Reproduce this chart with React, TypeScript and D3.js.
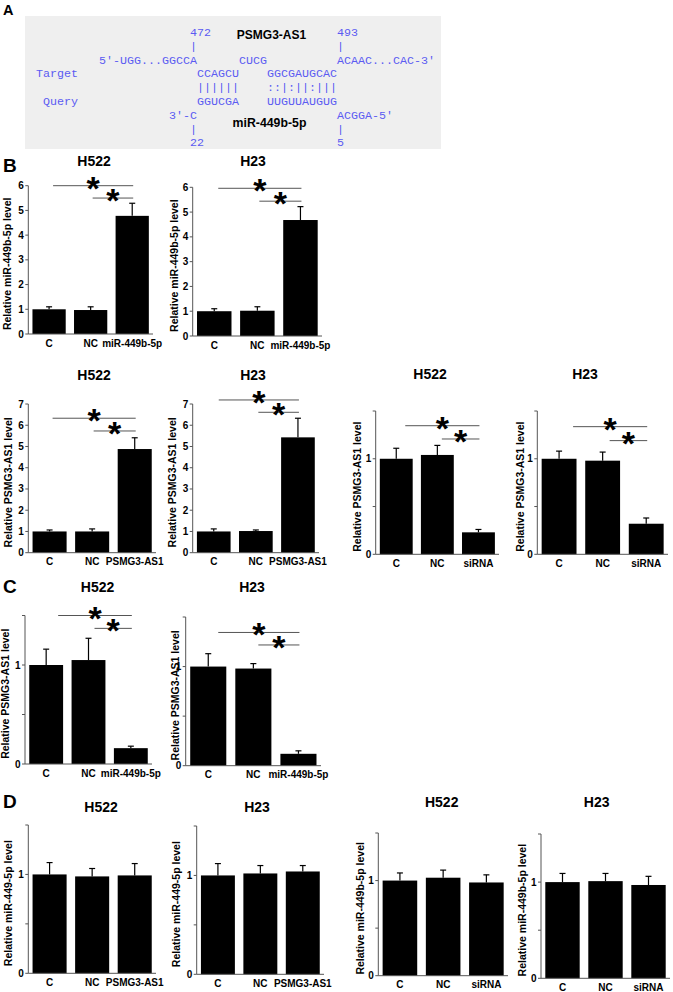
import * as d3 from 'd3'

const FONT = 'Arial, "Liberation Sans", Helvetica, sans-serif'
const MONO = '"Courier New", "Liberation Mono", monospace'
const BLUE = '#5b5bf2'

// groups on the x axis
const catsMir = ['C', 'NC', 'miR-449b-5p']
const catsOe = ['C', 'NC', 'PSMG3-AS1']
const catsSi = ['C', 'NC', 'siRNA']

// B: miR-449b-5p level after mimic
const bMirH522 = [1.0, 0.97, 4.78]
const bMirH522Sd = [0.1, 0.13, 0.51]
const bMirH23 = [1.0, 1.02, 4.68]
const bMirH23Sd = [0.1, 0.16, 0.54]
// B: PSMG3-AS1 level after overexpression
const bOeH522 = [1.0, 1.0, 4.88]
const bOeH522Sd = [0.07, 0.12, 0.53]
const bOeH23 = [1.0, 1.02, 5.43]
const bOeH23Sd = [0.12, 0.05, 0.9]
// B: PSMG3-AS1 level after siRNA
const bSiH522 = [1.0, 1.04, 0.23]
const bSiH522Sd = [0.11, 0.1, 0.03]
const bSiH23 = [1.0, 0.98, 0.32]
const bSiH23Sd = [0.08, 0.09, 0.06]
// C: PSMG3-AS1 level after miR-449b-5p mimic
const cH522 = [1.0, 1.05, 0.16]
const cH522Sd = [0.16, 0.22, 0.02]
const cH23 = [1.0, 0.98, 0.12]
const cH23Sd = [0.13, 0.05, 0.03]
// D: miR-449b-5p level
const dOeH522 = [1.0, 0.98, 0.99]
const dOeH522Sd = [0.12, 0.08, 0.12]
const dOeH23 = [1.0, 1.02, 1.04]
const dOeH23Sd = [0.12, 0.08, 0.06]
const dSiH522 = [1.0, 1.03, 0.98]
const dSiH522Sd = [0.08, 0.08, 0.08]
const dSiH23 = [1.0, 1.01, 0.97]
const dSiH23Sd = [0.09, 0.08, 0.09]

// significance brackets: [long C->3rd, short NC->3rd], in y units
const sigBMirH522 = [6.0, 5.5]
const sigBMirH23 = [5.96, 5.44]
const sigBOeH522 = [6.33, 5.73]
const sigBOeH23 = [7.19, 6.61]
const sigBSiH522 = [1.346, 1.207]
const sigBSiH23 = [1.336, 1.19]
const sigCH522 = [1.5, 1.37]
const sigCH23 = [1.344, 1.218]

// panel A: miRNA/lncRNA pairing, [column, text] per row of the monospace grid
const alignRows = [
  [[13, '472'], [34, '493']],
  [[13, '|'], [34, '|']],
  [[0, "5'-UGG...GGCCA"], [20, 'CUCG'], [34, "ACAAC...CAC-3'"]],
  [[-9, 'Target'], [14, 'CCAGCU'], [24, 'GGCGAUGCAC']],
  [[14, '||||||'], [24, '::|:||:|||']],
  [[-8, 'Query'], [14, 'GGUCGA'], [24, 'UUGUUAUGUG']],
  [[10, "3'-C"], [34, "ACGGA-5'"]],
  [[13, '|'], [34, '|']],
  [[13, '22'], [34, '5']],
]

const yLabMir = 'Relative miR-449b-5p level'
const yLabPs = 'Relative PSMG3-AS1 level'
const yLabMirD = 'Relative miR-449-5p level'

const panels = [
  { cats: catsMir, v: bMirH522, sd: bMirH522Sd, sig: sigBMirH522, max: 6, title: 'H522', ylab: yLabMir,
    ax: 28.3, right: 153, top: 185.7, zero: 334, tx: 94, ty: 165.5, lx: 7, shift: 4 },
  { cats: catsMir, v: bMirH23, sd: bMirH23Sd, sig: sigBMirH23, max: 6, title: 'H23', ylab: yLabMir,
    ax: 192.7, right: 322, top: 187.3, zero: 336, tx: 253, ty: 165.5, lx: 174.5, shift: 4 },
  { cats: catsOe, v: bOeH522, sd: bOeH522Sd, sig: sigBOeH522, max: 7, title: 'H522', ylab: yLabPs,
    ax: 28.3, right: 156, top: 404, zero: 552.7, tx: 94, ty: 380, lx: 8.2, shift: 3 },
  { cats: catsOe, v: bOeH23, sd: bOeH23Sd, sig: sigBOeH23, max: 7, title: 'H23', ylab: yLabPs,
    ax: 192.7, right: 319, top: 404, zero: 552.7, tx: 253, ty: 380, lx: 172.5, shift: 5 },
  { cats: catsSi, v: bSiH522, sd: bSiH522Sd, sig: sigBSiH522, max: 1.5, title: 'H522', ylab: yLabPs,
    ax: 375.7, right: 499, top: 411, zero: 554.3, tx: 430, ty: 379, lx: 357.5, shift: 9 },
  { cats: catsSi, v: bSiH23, sd: bSiH23Sd, sig: sigBSiH23, max: 1.5, title: 'H23', ylab: yLabPs,
    ax: 537.3, right: 668, top: 411, zero: 554.3, tx: 585, ty: 379, lx: 520.8, shift: 14 },
  { cats: catsMir, v: cH522, sd: cH522Sd, sig: sigCH522, max: 1.5, title: 'H522', ylab: yLabPs,
    ax: 25, right: 152, top: 615.5, zero: 764, tx: 97.5, ty: 592, lx: 5.5, shift: 12 },
  { cats: catsMir, v: cH23, sd: cH23Sd, sig: sigCH23, max: 1.5, title: 'H23', ylab: yLabPs,
    ax: 185.7, right: 321, top: 617, zero: 765.7, tx: 252, ty: 592, lx: 175, shift: 10 },
  { cats: catsOe, v: dOeH522, sd: dOeH522Sd, sig: null, max: 1.5, title: 'H522', ylab: yLabMirD,
    ax: 28.3, right: 156, top: 825, zero: 973.3, tx: 101, ty: 812, lx: 8, shift: 0 },
  { cats: catsOe, v: dOeH23, sd: dOeH23Sd, sig: null, max: 1.5, title: 'H23', ylab: yLabMirD,
    ax: 196.7, right: 324, top: 826, zero: 974.3, tx: 257, ty: 812, lx: 176, shift: 0 },
  { cats: catsSi, v: dSiH522, sd: dSiH522Sd, sig: null, max: 1.5, title: 'H522', ylab: yLabMir,
    ax: 378.3, right: 508, top: 833, zero: 975.7, tx: 441.7, ty: 807, lx: 360, shift: 0 },
  { cats: catsSi, v: dSiH23, sd: dSiH23Sd, sig: null, max: 1.5, title: 'H23', ylab: yLabMir,
    ax: 541, right: 670, top: 834, zero: 978.3, tx: 596.7, ty: 807, lx: 522.5, shift: 0 },
]

const AXIS = '#555'

function BarPanel({ p }: { p: any }) {
  const x = d3.scaleBand().domain(p.cats).range([p.ax, p.right]).paddingInner(0.2).paddingOuter(0.1)
  const y = d3.scaleLinear().domain([0, p.max]).range([p.zero, p.top])
  const ticks = p.max > 2 ? d3.range(0, p.max + 1) : [0, 0.5, 1, 1.5]
  const bw = x.bandwidth()
  const cx = (c: string) => (x(c) as number) + bw / 2
  const midY = (p.zero + p.top) / 2 + 4

  let sig = null
  if (p.sig) {
    const xEnd = cx(p.cats[2]) + 1
    const longStart = cx(p.cats[0]) + p.shift
    const shortStart = cx(p.cats[1]) + p.shift / 2
    const lines = [
      [longStart, y(p.sig[0])],
      [shortStart, y(p.sig[1])],
    ]
    sig = lines.map(([x1, yy], i) => (
      <g key={i}>
        <line x1={x1} x2={xEnd} y1={yy} y2={yy} stroke="#555" strokeWidth={1} />
        <text x={(x1 + xEnd) / 2} y={yy + 14} textAnchor="middle" fontSize={34}
          fontWeight="bold" fontFamily={FONT}>*</text>
      </g>
    ))
  }

  return (
    <g>
      <text x={p.tx} y={p.ty} textAnchor="middle" fontSize={14} fontWeight="bold" fontFamily={FONT}>{p.title}</text>
      {p.cats.map((c: string, i: number) => (
        <g key={c}>
          <rect x={x(c)} y={y(p.v[i])} width={bw} height={p.zero - y(p.v[i])} fill="#000" />
          <line x1={cx(c)} x2={cx(c)} y1={y(p.v[i])} y2={y(p.v[i] + p.sd[i])} stroke="#000" strokeWidth={1.2} />
          <line x1={cx(c) - 3} x2={cx(c) + 3} y1={y(p.v[i] + p.sd[i])} y2={y(p.v[i] + p.sd[i])} stroke="#000" strokeWidth={1.2} />
          <text x={cx(c)} y={p.zero + 12.5} textAnchor="middle" fontSize={10} fontWeight="bold" fontFamily={FONT}>{c}</text>
        </g>
      ))}
      <line x1={p.ax} x2={p.ax} y1={p.zero} y2={p.top} stroke={AXIS} strokeWidth={1} />
      <line x1={p.ax} x2={p.right} y1={p.zero} y2={p.zero} stroke={AXIS} strokeWidth={1} />
      {ticks.map(t => (
        <g key={t}>
          <line x1={p.ax - 3} x2={p.ax} y1={y(t)} y2={y(t)} stroke={AXIS} strokeWidth={1} />
          {Number.isInteger(t) && (
            <text x={p.ax - 4.5} y={y(t)} dy="0.35em" textAnchor="end" fontSize={10} fontWeight="bold" fontFamily={FONT}>{t}</text>
          )}
        </g>
      ))}
      <text transform={`translate(${p.lx},${midY}) rotate(-90)`} dy="0.35em" textAnchor="middle"
        fontSize={10.5} fontWeight="bold" fontFamily={FONT}>{p.ylab}</text>
      {sig}
    </g>
  )
}

function AlignPanel() {
  const colX = d3.scaleLinear().domain([0, 1]).range([99, 106])
  const rowY = d3.scaleLinear().domain([0, 1]).range([36, 49.8])
  return (
    <g>
      <rect x={25} y={16} width={416} height={133} fill="#efefef" />
      {alignRows.map((row, r) => row.map(([c, t]) => (
        <text key={`${r}-${c}`} x={colX(c as number)} y={rowY(r)} fontSize={11.67} fontFamily={MONO}
          fill={BLUE} style={{ whiteSpace: 'pre' }}>{t}</text>
      )))}
      <text x={271.5} y={39} textAnchor="middle" fontSize={12} fontWeight="bold" fontFamily={FONT}>PSMG3-AS1</text>
      <text x={269.5} y={127.3} textAnchor="middle" fontSize={12.3} fontWeight="bold" fontFamily={FONT}>miR-449b-5p</text>
    </g>
  )
}

export default function App() {
  return (
    <div>
      <style>{'body{margin:0;background:#fff}'}</style>
      <svg width={673} height={992} style={{ display: 'block', background: '#fff' }}>
        <AlignPanel />
        <text x={3} y={15} fontSize={14.5} fontWeight="bold" fontFamily={FONT}>A</text>
        <text x={3} y={172} fontSize={19} fontWeight="bold" fontFamily={FONT}>B</text>
        <text x={3} y={593} fontSize={19} fontWeight="bold" fontFamily={FONT}>C</text>
        <text x={3} y={808} fontSize={19} fontWeight="bold" fontFamily={FONT}>D</text>
        {panels.map((p, i) => <BarPanel key={i} p={p} />)}
      </svg>
    </div>
  )
}
